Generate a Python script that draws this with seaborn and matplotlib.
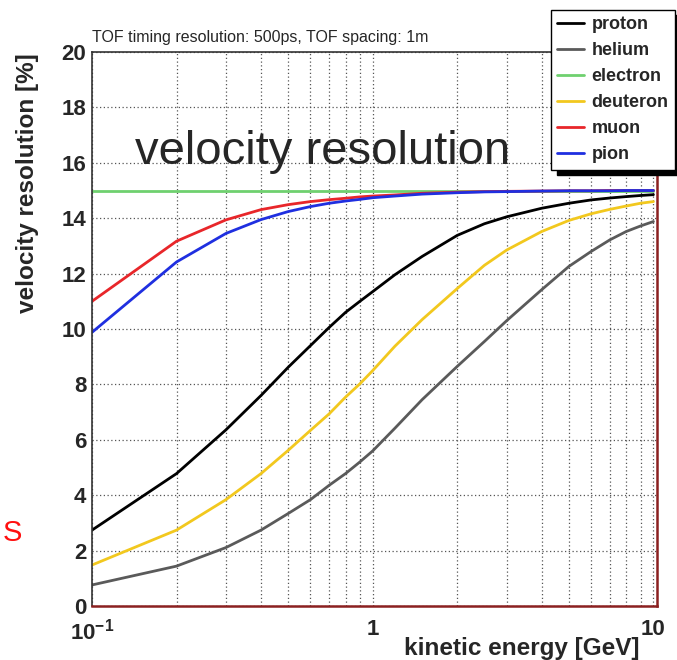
import numpy as np
import pandas as pd
import matplotlib
matplotlib.use("Agg")
import matplotlib.pyplot as plt
import seaborn as sns
from matplotlib.ticker import FixedLocator, MultipleLocator, NullFormatter

energy = [0.1, 0.2, 0.3, 0.4, 0.5, 0.6, 0.7, 0.8, 0.9, 1.0, 1.2, 1.5, 2.0, 2.5, 3.0, 4.0, 5.0, 6.0, 7.0, 8.0, 9.0, 10.0]
proton = [2.74, 4.78, 6.36, 7.6, 8.62, 9.4, 10.06, 10.6, 11.0, 11.35, 11.96, 12.62, 13.38, 13.8, 14.05, 14.36, 14.54, 14.66, 14.73, 14.78, 14.82, 14.85]
helium = [0.76, 1.44, 2.11, 2.74, 3.34, 3.84, 4.36, 4.78, 5.2, 5.6, 6.42, 7.45, 8.65, 9.55, 10.3, 11.42, 12.26, 12.8, 13.22, 13.52, 13.72, 13.88]
electron = [15, 15, 15, 15, 15, 15, 15, 15, 15, 15, 15, 15, 15, 15, 15, 15, 15, 15, 15, 15, 15, 15]
deuteron = [1.48, 2.74, 3.84, 4.78, 5.62, 6.34, 6.94, 7.54, 8.02, 8.5, 9.38, 10.34, 11.46, 12.3, 12.85, 13.52, 13.92, 14.16, 14.32, 14.44, 14.54, 14.6]
muon = [11.0, 13.17, 13.94, 14.31, 14.49, 14.6, 14.67, 14.72, 14.77, 14.8, 14.84, 14.9, 14.94, 14.96, 14.97, 14.98, 14.99, 14.99, 15, 15, 15, 15]
pion = [9.88, 12.42, 13.45, 13.95, 14.24, 14.42, 14.54, 14.62, 14.68, 14.74, 14.8, 14.87, 14.92, 14.95, 14.96, 14.98, 14.99, 14.99, 14.99, 15, 15, 15]

particles = ["proton", "helium", "electron", "deuteron", "muon", "pion"]
colors = ["#000000", "#5a5a5a", "#6fd06f", "#f2c81e", "#e8262a", "#1f2fe0"]

series = [proton, helium, electron, deuteron, muon, pion]
df = pd.concat([pd.DataFrame({"energy": energy, "res": s, "particle": p})
                for p, s in zip(particles, series)], ignore_index=True)

sns.set_style("white")
plt.rcParams["font.family"] = ["Liberation Sans", "DejaVu Sans"]
plt.rcParams["mathtext.fontset"] = "custom"
plt.rcParams["mathtext.bf"] = "Liberation Sans:bold"
plt.rcParams["mathtext.rm"] = "Liberation Sans"

fig = plt.figure(figsize=(6.77, 6.6), dpi=100)
ax = fig.add_axes([0.1359, 0.0818, 0.9705 - 0.1359, 0.9212 - 0.0818])

sns.lineplot(data=df, x="energy", y="res", hue="particle", hue_order=particles,
             palette=dict(zip(particles, colors)), linewidth=2, ax=ax, legend=False)

ax.set_xscale("log")
ax.set_xlim(0.1, 10.3)
ax.set_ylim(0, 20)

ax.xaxis.set_major_locator(FixedLocator([0.1, 1, 10]))
ax.xaxis.set_minor_locator(FixedLocator([0.2, 0.3, 0.4, 0.5, 0.6, 0.7, 0.8, 0.9, 2, 3, 4, 5, 6, 7, 8, 9]))
ax.xaxis.set_minor_formatter(NullFormatter())
ax.set_xticklabels([r"$\mathbf{10^{-1}}$", "1", "10"])
ax.yaxis.set_major_locator(MultipleLocator(2))
ax.yaxis.set_minor_locator(MultipleLocator(0.5))

ax.tick_params(axis="both", which="both", direction="in", top=False, right=False)
ax.tick_params(axis="y", which="major", length=10, width=1, color="#444444")
ax.tick_params(axis="y", which="minor", length=5, width=1, color="#444444")
ax.tick_params(axis="x", which="major", length=9, width=1, color="#444444")
ax.tick_params(axis="x", which="minor", length=8, width=1, color="#444444")
for lbl in ax.get_xticklabels() + ax.get_yticklabels():
    lbl.set_fontsize(16)
    lbl.set_fontweight("bold")
ax.tick_params(axis="y", pad=4)
ax.tick_params(axis="x", pad=9)

ax.grid(True, which="both", axis="x", linestyle=(0, (1, 2)), color="#555555", linewidth=0.9)
ax.grid(True, which="major", axis="y", linestyle=(0, (1, 2)), color="#555555", linewidth=0.9)

for side in ["top", "left"]:
    ax.spines[side].set_color("#333333")
    ax.spines[side].set_linewidth(1.2)
for side in ["bottom", "right"]:
    ax.spines[side].set_color("#8b2020")
    ax.spines[side].set_linewidth(1.8)

ax.set_xlabel("")
ax.set_ylabel("")
fig.text(0.041, 0.722, "velocity resolution [%]", rotation=90, fontsize=17.5,
         fontweight="bold", ha="center", va="center")
fig.text(0.945, 0.018, "kinetic energy [GeV]", fontsize=17.5, fontweight="bold",
         ha="right", va="center")
fig.text(0.136, 0.943, "TOF timing resolution: 500ps, TOF spacing: 1m", fontsize=11.5,
         ha="left", va="center")
fig.text(0.200, 0.77, "velocity resolution", fontsize=34, ha="left", va="center")
fig.text(0.004, 0.192, "S", fontsize=21, color="#ff1010", ha="left", va="center")

handles = [plt.Line2D([], [], color=c, linewidth=2) for c in colors]
leg = fig.legend(handles, particles, loc="upper left", bbox_to_anchor=(0.814, 0.985),
                 frameon=True, fancybox=False, edgecolor="black", framealpha=1,
                 prop={"size": 13, "weight": "bold"}, handlelength=1.45,
                 handletextpad=0.45, labelspacing=0.5, borderpad=0.35,
                 borderaxespad=0,
                 shadow={"color": "black", "alpha": 1, "ox": 4, "oy": -4})
leg.get_frame().set_linewidth(1.0)

fig.savefig("out.png", dpi=100)
